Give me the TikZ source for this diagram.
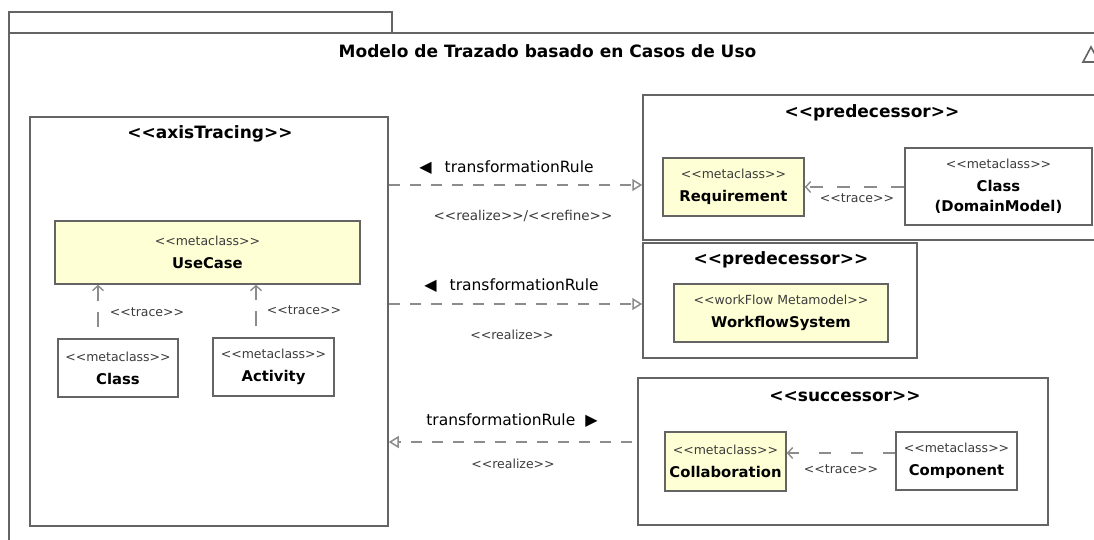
\documentclass[tikz,border=0pt]{standalone}
\usepackage{fontspec}
\newfontfamily\dv{DejaVu Sans}
\usetikzlibrary{arrows.meta}
\definecolor{boxline}{RGB}{100,100,100}
\definecolor{dashc}{RGB}{140,140,140}
\definecolor{ylw}{RGB}{255,255,214}
\definecolor{stc}{RGB}{60,60,60}
\newcommand\stf{\dv\fontsize{12.5}{23}\selectfont\color{stc}}
\newcommand\nmf{\dv\bfseries\fontsize{14.8}{23}\selectfont\color{black}}
\begin{document}
\begin{tikzpicture}[x=1pt,y=-1pt,
  box/.style={draw=boxline, line width=1.5pt, rectangle, inner sep=0pt},
  cls/.style={box, align=center, font=\dv\fontsize{14}{23}\selectfont},
  ycls/.style={cls, fill=ylw},
  pkgtitle/.style={font=\dv\bfseries\fontsize{17}{20}\selectfont, inner sep=0pt},
  lbl/.style={font=\dv\fontsize{15.5}{18}\selectfont, inner sep=0pt},
  stlbl/.style={font=\dv\fontsize{12.5}{15}\selectfont, text=stc, inner sep=0pt},
  realz/.style={draw=dashc, line width=1.5pt, dash pattern=on 11pt off 10pt, -{Triangle[open, length=10pt, width=12pt]}},
  tracearr/.style={draw=dashc, line width=1.4pt, dash pattern=on 13pt off 14pt, -{Straight Barb[length=5pt, width=11pt]}},
]
\useasboundingbox (0,0) rectangle (1094,539);
\clip (0,0) rectangle (1094,539);
\fill[white] (0,0) rectangle (1094,539);

% outer package
\node[box, minimum width=1101pt, minimum height=527pt] (frame) at (559.5,296.5) {};
\node[box, minimum width=383pt, minimum height=21pt] (tab) at (200.5,22.5) {};
\node[font=\dv\bfseries\fontsize{17}{20}\selectfont, inner sep=0pt] (mtitle) at (547.5,51) {Modelo de Trazado basado en Casos de Uso};
\draw[boxline, line width=1.6pt] (1083,62) -- (1091,47) -- (1099,62) -- cycle;

% axisTracing
\node[box, minimum width=358pt, minimum height=409pt] (axis) at (209,321.5) {};
\node[pkgtitle] (axist) at (210,134) {<<axisTracing>>};
\node[ycls, minimum width=305pt, minimum height=63pt] (uc) at (207.5,252.5) {{\stf <<metaclass>>}\\{\nmf UseCase}};
\node[cls, minimum width=120pt, minimum height=58pt] (cls) at (118,368) {{\stf <<metaclass>>}\\{\nmf Class}};
\node[cls, minimum width=121pt, minimum height=58pt] (act) at (273.5,367) {{\stf <<metaclass>>}\\{\nmf Activity}};
\coordinate (tx1) at (98,0);
\coordinate (tx2) at (256,0);
\draw[tracearr, dash pattern=on 15pt off 11pt, dash phase=15pt] (cls.north -| tx1) -- (uc.south -| tx1);
\draw[tracearr, dash pattern=on 15pt off 11pt, dash phase=15pt] (act.north -| tx2) -- (uc.south -| tx2);
\node[stlbl] (tl1) at (147,312) {<<trace>>};
\node[stlbl] (tl2) at (304,310) {<<trace>>};

% predecessor 1
\node[box, minimum width=467pt, minimum height=145pt] (pred1) at (876.5,167.5) {};
\node[pkgtitle] (pred1t) at (872,113) {<<predecessor>>};
\node[ycls, minimum width=141pt, minimum height=58pt] (req) at (733.5,187) {{\stf <<metaclass>>}\\{\nmf Requirement}};
\node[cls, minimum width=187pt, minimum height=77pt] (dm) at (998.5,186.5) {{\stf <<metaclass>>}\\{\nmf Class}\\[-3pt]{\nmf (DomainModel)}};
\draw[tracearr] (dm.west |- req.east) -- (req.east);
\node[stlbl] (tl3) at (857,198) {<<trace>>};

% predecessor 2
\node[box, minimum width=274pt, minimum height=115pt] (pred2) at (780,300.5) {};
\node[pkgtitle] (pred2t) at (781,260) {<<predecessor>>};
\node[ycls, minimum width=214pt, minimum height=58pt] (wf) at (781,313) {{\stf <<workFlow Metamodel>>}\\{\nmf WorkflowSystem}};

% successor
\node[box, minimum width=410pt, minimum height=147pt] (succ) at (843,451.5) {};
\node[pkgtitle] (succt) at (845,397) {<<successor>>};
\node[ycls, minimum width=121pt, minimum height=59pt] (col) at (725.5,461.5) {{\stf <<metaclass>>}\\{\nmf Collaboration}};
\node[cls, minimum width=121pt, minimum height=58pt] (comp) at (956.5,461) {{\stf <<metaclass>>}\\{\nmf Component}};
\coordinate (ty4) at (0,453);
\draw[tracearr, dash pattern=on 12pt off 20pt] (comp.west |- ty4) -- (col.east |- ty4);
\node[stlbl] (tl4) at (841,469) {<<trace>>};

% realization connectors
\coordinate (y1) at (0,185);
\coordinate (y2) at (0,304);
\coordinate (y3) at (0,442);
\draw[realz] (axis.east |- y1) -- (pred1.west |- y1);
\draw[realz] (axis.east |- y2) -- (pred2.west |- y2);
\draw[realz, dash phase=16pt] (succ.west |- y3) -- (axis.east |- y3);

\node[lbl] (r1a) at (506.5,168) {{\fontsize{16}{16}\selectfont ◀}\hspace{13pt}transformationRule};
\node[stlbl, font=\dv\fontsize{13.5}{15}\selectfont] (r1b) at (523,216) {<<realize>>/<<refine>>};
\node[lbl] (r2a) at (511.5,286) {{\fontsize{16}{16}\selectfont ◀}\hspace{13pt}transformationRule};
\node[stlbl] (r2b) at (512,335) {<<realize>>};
\node[lbl] (r3a) at (512,421) {transformationRule\hspace{10pt}{\fontsize{16}{16}\selectfont ▶}};
\node[stlbl] (r3b) at (513,464) {<<realize>>};
\end{tikzpicture}
\end{document}
